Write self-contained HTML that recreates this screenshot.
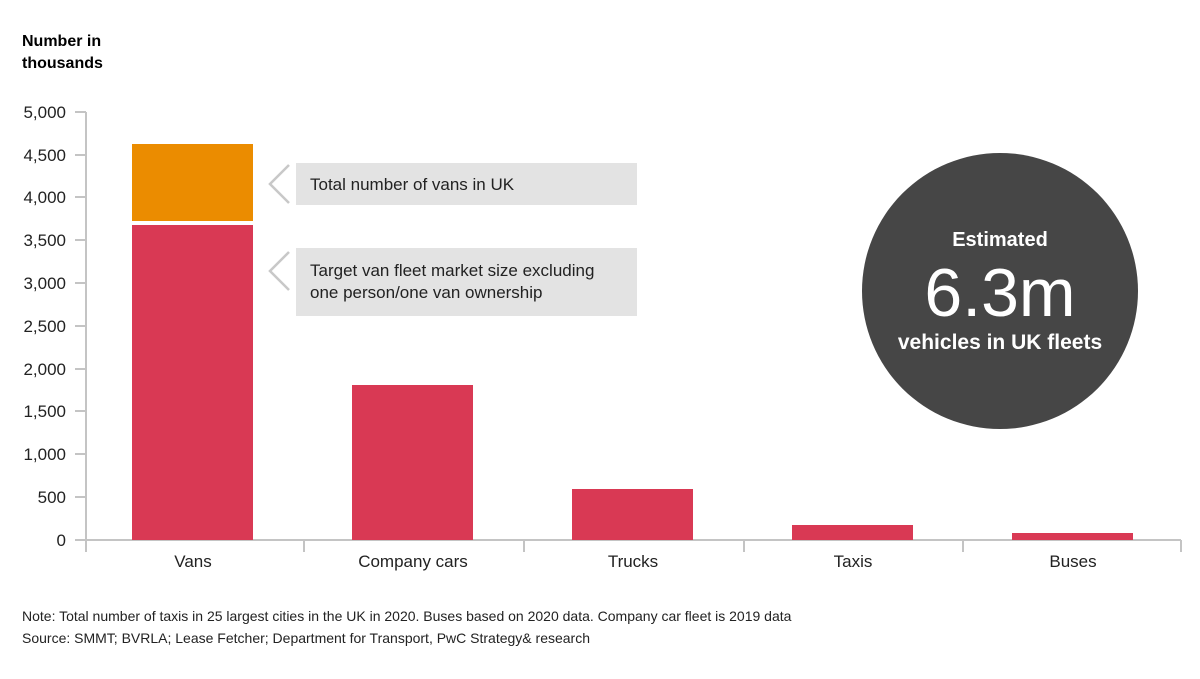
<!DOCTYPE html>
<html><head><meta charset="utf-8"><style>
body{margin:0;width:1200px;height:674px;background:#fff;overflow:hidden;font-family:"Liberation Sans",Arial,sans-serif;}
</style></head><body>
<svg width="1200" height="674" xmlns="http://www.w3.org/2000/svg" font-family="Liberation Sans, Arial, sans-serif">
<text x="22" y="46" font-size="16" font-weight="bold" fill="#000">Number in</text>
<text x="22" y="68" font-size="16" font-weight="bold" fill="#000">thousands</text>
<g stroke="#c4c4c4" stroke-width="2" fill="none">
<line x1="86" y1="112" x2="86" y2="552"/>
<line x1="75" y1="540" x2="1181" y2="540"/>
<line x1="75" y1="112" x2="86" y2="112"/>
<line x1="75" y1="155" x2="86" y2="155"/>
<line x1="75" y1="197" x2="86" y2="197"/>
<line x1="75" y1="240" x2="86" y2="240"/>
<line x1="75" y1="283" x2="86" y2="283"/>
<line x1="75" y1="326" x2="86" y2="326"/>
<line x1="75" y1="369" x2="86" y2="369"/>
<line x1="75" y1="411" x2="86" y2="411"/>
<line x1="75" y1="454" x2="86" y2="454"/>
<line x1="75" y1="497" x2="86" y2="497"/>
<line x1="304" y1="540" x2="304" y2="552"/>
<line x1="524" y1="540" x2="524" y2="552"/>
<line x1="744" y1="540" x2="744" y2="552"/>
<line x1="963" y1="540" x2="963" y2="552"/>
<line x1="1181" y1="540" x2="1181" y2="552"/>
</g>
<g font-size="17" fill="#222" text-anchor="end">
<text x="66" y="118">5,000</text><text x="66" y="161">4,500</text><text x="66" y="203">4,000</text>
<text x="66" y="246">3,500</text><text x="66" y="289">3,000</text><text x="66" y="332">2,500</text>
<text x="66" y="375">2,000</text><text x="66" y="417">1,500</text><text x="66" y="460">1,000</text>
<text x="66" y="503">500</text><text x="66" y="546">0</text>
</g>
<rect x="132" y="144" width="121" height="77" fill="#eb8c00"/>
<rect x="132" y="225" width="121" height="315" fill="#d93954"/>
<rect x="352" y="385" width="121" height="155" fill="#d93954"/>
<rect x="572" y="489" width="121" height="51" fill="#d93954"/>
<rect x="792" y="525" width="121" height="15" fill="#d93954"/>
<rect x="1012" y="533" width="121" height="7" fill="#d93954"/>
<g font-size="17" fill="#222" text-anchor="middle">
<text x="193" y="567">Vans</text><text x="413" y="567">Company cars</text><text x="633" y="567">Trucks</text>
<text x="853" y="567">Taxis</text><text x="1073" y="567">Buses</text>
</g>
<rect x="296" y="163" width="341" height="42" fill="#e3e3e3"/>
<polyline points="289,165 270,184 289,203" fill="none" stroke="#c8c8c8" stroke-width="2.5"/>
<text x="310" y="190" font-size="17" fill="#222">Total number of vans in UK</text>
<rect x="296" y="248" width="341" height="68" fill="#e3e3e3"/>
<polyline points="289,252 270,271 289,290" fill="none" stroke="#c8c8c8" stroke-width="2.5"/>
<text x="310" y="276" font-size="17" fill="#222">Target van fleet market size excluding</text>
<text x="310" y="298" font-size="17" fill="#222">one person/one van ownership</text>
<circle cx="1000" cy="291" r="138" fill="#464646"/>
<g fill="#fff" text-anchor="middle">
<text x="1000" y="246" font-size="20" font-weight="bold">Estimated</text>
<text x="1000" y="316" font-size="68">6.3m</text>
<text x="1000" y="349" font-size="21" font-weight="bold">vehicles in UK fleets</text>
</g>
<text x="22" y="621" font-size="14" fill="#222">Note: Total number of taxis in 25 largest cities in the UK in 2020. Buses based on 2020 data. Company car fleet is 2019 data</text>
<text x="22" y="643" font-size="14" fill="#222">Source: SMMT; BVRLA; Lease Fetcher; Department for Transport, PwC Strategy&amp; research</text>
</svg>
</body></html>
